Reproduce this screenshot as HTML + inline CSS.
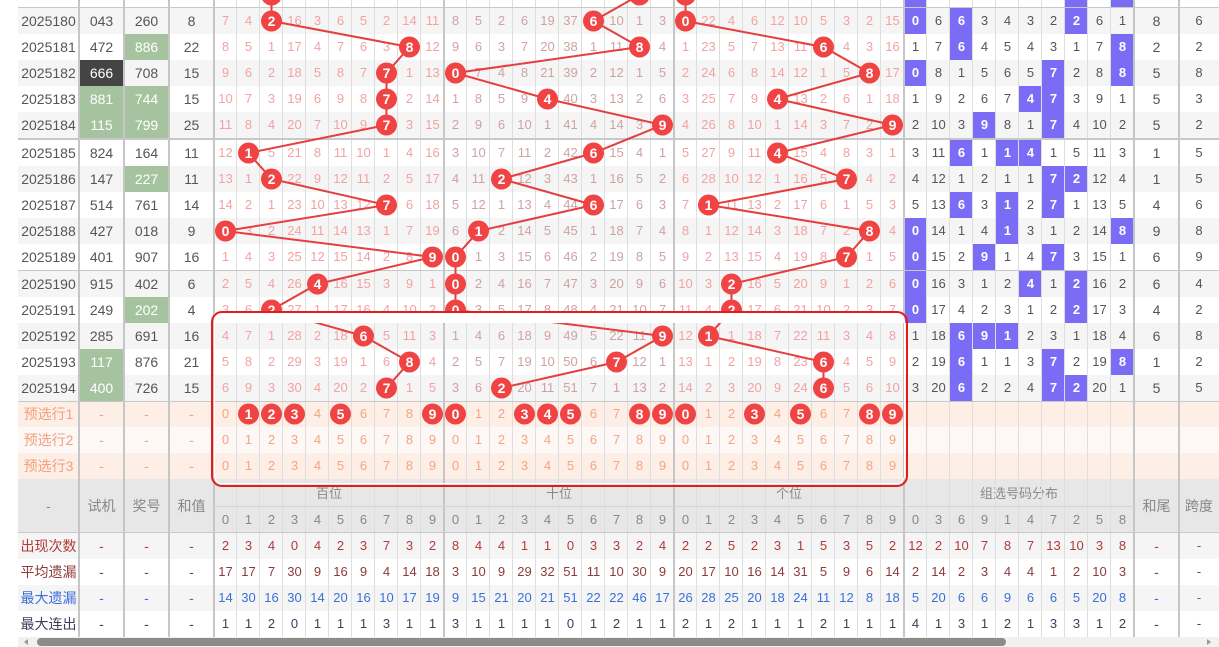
<!DOCTYPE html>
<html><head><meta charset="utf-8"><style>
body{margin:0;width:1219px;height:647px;overflow:hidden;background:#fff;font-family:"Liberation Sans","Noto Sans CJK SC",sans-serif;position:relative}
.r{position:absolute;left:18px;width:1201px;height:26px;line-height:26px;display:flex;font-size:13px;color:#555}
.r>*{display:block;flex:none;text-align:center;font-style:normal;font-weight:normal;text-decoration:none}
.a{width:61px;font-size:14px}.b{width:45px;font-size:14px}.r i{width:23px}.e{width:40px}
.g{background:#f5f5f5}
.dr i:nth-of-type(-n+10){color:#f3a2a2}
.dr i:nth-of-type(n+11):nth-of-type(-n+20){color:#cfa2a2}
.dr i:nth-of-type(n+21):nth-of-type(-n+30){color:#f3a2a2}
.dr i:nth-of-type(n+31){color:#555}
.dr i.p{background:#7b6cf6;color:#fff;font-weight:bold}
.gr{background:#a6c3a0;color:#fff!important}
.dk{background:#444;color:#fff!important}
.ps{color:#f2a07e}.ps i{color:#f4a585}
.p1{background:#fdeee6}.p2{background:#fdf7f5}
.hd{background:#e7e7e7;color:#888;font-size:14px}
.s1{color:#b23a3a}.s2{color:#8b3b3b}.s3{color:#3b6fd6}.s4{color:#3a4060}
.v{position:absolute;top:0;height:637px;width:2px;background:#c6c6c6}
.lt{position:absolute;top:0;height:637px;width:230px;background:repeating-linear-gradient(to right,transparent 0 22px,#dedede 22px 23px)}
.h{position:absolute;left:18px;width:1201px;height:1px;background:#c8c8c8}
</style></head><body>

<div class="r" style="top:-18px"></div>
<div style="position:absolute;left:904px;top:0;width:23px;height:8px;background:#7b6cf6"></div>
<div style="position:absolute;left:1065px;top:0;width:23px;height:8px;background:#7b6cf6"></div>
<div style="position:absolute;left:1111px;top:0;width:23px;height:8px;background:#7b6cf6"></div>

<div class="r dr g" style="top:8px"><span class="a">2025180</span><span class="b">043</span><span class="b">260</span><span class="b">8</span><i>7</i><i>4</i><i></i><i>16</i><i>3</i><i>6</i><i>5</i><i>2</i><i>14</i><i>11</i><i>8</i><i>5</i><i>2</i><i>6</i><i>19</i><i>37</i><i></i><i>10</i><i>1</i><i>3</i><i></i><i>22</i><i>4</i><i>6</i><i>12</i><i>10</i><i>5</i><i>3</i><i>2</i><i>15</i><i class="p">0</i><i>6</i><i class="p">6</i><i>3</i><i>4</i><i>3</i><i>2</i><i class="p">2</i><i>6</i><i>1</i><span class="b">8</span><span class="e">6</span></div>
<div class="r dr" style="top:34px"><span class="a">2025181</span><span class="b">472</span><span class="b gr">886</span><span class="b">22</span><i>8</i><i>5</i><i>1</i><i>17</i><i>4</i><i>7</i><i>6</i><i>3</i><i></i><i>12</i><i>9</i><i>6</i><i>3</i><i>7</i><i>20</i><i>38</i><i>1</i><i>11</i><i></i><i>4</i><i>1</i><i>23</i><i>5</i><i>7</i><i>13</i><i>11</i><i></i><i>4</i><i>3</i><i>16</i><i>1</i><i>7</i><i class="p">6</i><i>4</i><i>5</i><i>4</i><i>3</i><i>1</i><i>7</i><i class="p">8</i><span class="b">2</span><span class="e">2</span></div>
<div class="r dr g" style="top:60px"><span class="a">2025182</span><span class="b dk">666</span><span class="b">708</span><span class="b">15</span><i>9</i><i>6</i><i>2</i><i>18</i><i>5</i><i>8</i><i>7</i><i></i><i>1</i><i>13</i><i></i><i>7</i><i>4</i><i>8</i><i>21</i><i>39</i><i>2</i><i>12</i><i>1</i><i>5</i><i>2</i><i>24</i><i>6</i><i>8</i><i>14</i><i>12</i><i>1</i><i>5</i><i></i><i>17</i><i class="p">0</i><i>8</i><i>1</i><i>5</i><i>6</i><i>5</i><i class="p">7</i><i>2</i><i>8</i><i class="p">8</i><span class="b">5</span><span class="e">8</span></div>
<div class="r dr" style="top:86px"><span class="a">2025183</span><span class="b gr">881</span><span class="b gr">744</span><span class="b">15</span><i>10</i><i>7</i><i>3</i><i>19</i><i>6</i><i>9</i><i>8</i><i></i><i>2</i><i>14</i><i>1</i><i>8</i><i>5</i><i>9</i><i></i><i>40</i><i>3</i><i>13</i><i>2</i><i>6</i><i>3</i><i>25</i><i>7</i><i>9</i><i></i><i>13</i><i>2</i><i>6</i><i>1</i><i>18</i><i>1</i><i>9</i><i>2</i><i>6</i><i>7</i><i class="p">4</i><i class="p">7</i><i>3</i><i>9</i><i>1</i><span class="b">5</span><span class="e">3</span></div>
<div class="r dr g" style="top:112px"><span class="a">2025184</span><span class="b gr">115</span><span class="b gr">799</span><span class="b">25</span><i>11</i><i>8</i><i>4</i><i>20</i><i>7</i><i>10</i><i>9</i><i></i><i>3</i><i>15</i><i>2</i><i>9</i><i>6</i><i>10</i><i>1</i><i>41</i><i>4</i><i>14</i><i>3</i><i></i><i>4</i><i>26</i><i>8</i><i>10</i><i>1</i><i>14</i><i>3</i><i>7</i><i>2</i><i></i><i>2</i><i>10</i><i>3</i><i class="p">9</i><i>8</i><i>1</i><i class="p">7</i><i>4</i><i>10</i><i>2</i><span class="b">5</span><span class="e">2</span></div>
<div class="r dr" style="top:140px"><span class="a">2025185</span><span class="b">824</span><span class="b">164</span><span class="b">11</span><i>12</i><i></i><i>5</i><i>21</i><i>8</i><i>11</i><i>10</i><i>1</i><i>4</i><i>16</i><i>3</i><i>10</i><i>7</i><i>11</i><i>2</i><i>42</i><i></i><i>15</i><i>4</i><i>1</i><i>5</i><i>27</i><i>9</i><i>11</i><i></i><i>15</i><i>4</i><i>8</i><i>3</i><i>1</i><i>3</i><i>11</i><i class="p">6</i><i>1</i><i class="p">1</i><i class="p">4</i><i>1</i><i>5</i><i>11</i><i>3</i><span class="b">1</span><span class="e">5</span></div>
<div class="r dr g" style="top:166px"><span class="a">2025186</span><span class="b">147</span><span class="b gr">227</span><span class="b">11</span><i>13</i><i>1</i><i></i><i>22</i><i>9</i><i>12</i><i>11</i><i>2</i><i>5</i><i>17</i><i>4</i><i>11</i><i></i><i>12</i><i>3</i><i>43</i><i>1</i><i>16</i><i>5</i><i>2</i><i>6</i><i>28</i><i>10</i><i>12</i><i>1</i><i>16</i><i>5</i><i></i><i>4</i><i>2</i><i>4</i><i>12</i><i>1</i><i>2</i><i>1</i><i>1</i><i class="p">7</i><i class="p">2</i><i>12</i><i>4</i><span class="b">1</span><span class="e">5</span></div>
<div class="r dr" style="top:192px"><span class="a">2025187</span><span class="b">514</span><span class="b">761</span><span class="b">14</span><i>14</i><i>2</i><i>1</i><i>23</i><i>10</i><i>13</i><i>12</i><i></i><i>6</i><i>18</i><i>5</i><i>12</i><i>1</i><i>13</i><i>4</i><i>44</i><i></i><i>17</i><i>6</i><i>3</i><i>7</i><i></i><i>11</i><i>13</i><i>2</i><i>17</i><i>6</i><i>1</i><i>5</i><i>3</i><i>5</i><i>13</i><i class="p">6</i><i>3</i><i class="p">1</i><i>2</i><i class="p">7</i><i>1</i><i>13</i><i>5</i><span class="b">4</span><span class="e">6</span></div>
<div class="r dr g" style="top:218px"><span class="a">2025188</span><span class="b">427</span><span class="b">018</span><span class="b">9</span><i></i><i>3</i><i>2</i><i>24</i><i>11</i><i>14</i><i>13</i><i>1</i><i>7</i><i>19</i><i>6</i><i></i><i>2</i><i>14</i><i>5</i><i>45</i><i>1</i><i>18</i><i>7</i><i>4</i><i>8</i><i>1</i><i>12</i><i>14</i><i>3</i><i>18</i><i>7</i><i>2</i><i></i><i>4</i><i class="p">0</i><i>14</i><i>1</i><i>4</i><i class="p">1</i><i>3</i><i>1</i><i>2</i><i>14</i><i class="p">8</i><span class="b">9</span><span class="e">8</span></div>
<div class="r dr" style="top:244px"><span class="a">2025189</span><span class="b">401</span><span class="b">907</span><span class="b">16</span><i>1</i><i>4</i><i>3</i><i>25</i><i>12</i><i>15</i><i>14</i><i>2</i><i>8</i><i></i><i></i><i>1</i><i>3</i><i>15</i><i>6</i><i>46</i><i>2</i><i>19</i><i>8</i><i>5</i><i>9</i><i>2</i><i>13</i><i>15</i><i>4</i><i>19</i><i>8</i><i></i><i>1</i><i>5</i><i class="p">0</i><i>15</i><i>2</i><i class="p">9</i><i>1</i><i>4</i><i class="p">7</i><i>3</i><i>15</i><i>1</i><span class="b">6</span><span class="e">9</span></div>
<div class="r dr g" style="top:271px"><span class="a">2025190</span><span class="b">915</span><span class="b">402</span><span class="b">6</span><i>2</i><i>5</i><i>4</i><i>26</i><i></i><i>16</i><i>15</i><i>3</i><i>9</i><i>1</i><i></i><i>2</i><i>4</i><i>16</i><i>7</i><i>47</i><i>3</i><i>20</i><i>9</i><i>6</i><i>10</i><i>3</i><i></i><i>16</i><i>5</i><i>20</i><i>9</i><i>1</i><i>2</i><i>6</i><i class="p">0</i><i>16</i><i>3</i><i>1</i><i>2</i><i class="p">4</i><i>1</i><i class="p">2</i><i>16</i><i>2</i><span class="b">6</span><span class="e">4</span></div>
<div class="r dr" style="top:297px"><span class="a">2025191</span><span class="b">249</span><span class="b gr">202</span><span class="b">4</span><i>3</i><i>6</i><i></i><i>27</i><i>1</i><i>17</i><i>16</i><i>4</i><i>10</i><i>2</i><i></i><i>3</i><i>5</i><i>17</i><i>8</i><i>48</i><i>4</i><i>21</i><i>10</i><i>7</i><i>11</i><i>4</i><i></i><i>17</i><i>6</i><i>21</i><i>10</i><i>2</i><i>3</i><i>7</i><i class="p">0</i><i>17</i><i>4</i><i>2</i><i>3</i><i>1</i><i>2</i><i class="p">2</i><i>17</i><i>3</i><span class="b">4</span><span class="e">2</span></div>
<div class="r dr g" style="top:323px"><span class="a">2025192</span><span class="b">285</span><span class="b">691</span><span class="b">16</span><i>4</i><i>7</i><i>1</i><i>28</i><i>2</i><i>18</i><i></i><i>5</i><i>11</i><i>3</i><i>1</i><i>4</i><i>6</i><i>18</i><i>9</i><i>49</i><i>5</i><i>22</i><i>11</i><i></i><i>12</i><i></i><i>1</i><i>18</i><i>7</i><i>22</i><i>11</i><i>3</i><i>4</i><i>8</i><i>1</i><i>18</i><i class="p">6</i><i class="p">9</i><i class="p">1</i><i>2</i><i>3</i><i>1</i><i>18</i><i>4</i><span class="b">6</span><span class="e">8</span></div>
<div class="r dr" style="top:349px"><span class="a">2025193</span><span class="b gr">117</span><span class="b">876</span><span class="b">21</span><i>5</i><i>8</i><i>2</i><i>29</i><i>3</i><i>19</i><i>1</i><i>6</i><i></i><i>4</i><i>2</i><i>5</i><i>7</i><i>19</i><i>10</i><i>50</i><i>6</i><i></i><i>12</i><i>1</i><i>13</i><i>1</i><i>2</i><i>19</i><i>8</i><i>23</i><i></i><i>4</i><i>5</i><i>9</i><i>2</i><i>19</i><i class="p">6</i><i>1</i><i>1</i><i>3</i><i class="p">7</i><i>2</i><i>19</i><i class="p">8</i><span class="b">1</span><span class="e">2</span></div>
<div class="r dr g" style="top:375px"><span class="a">2025194</span><span class="b gr">400</span><span class="b">726</span><span class="b">15</span><i>6</i><i>9</i><i>3</i><i>30</i><i>4</i><i>20</i><i>2</i><i></i><i>1</i><i>5</i><i>3</i><i>6</i><i></i><i>20</i><i>11</i><i>51</i><i>7</i><i>1</i><i>13</i><i>2</i><i>14</i><i>2</i><i>3</i><i>20</i><i>9</i><i>24</i><i></i><i>5</i><i>6</i><i>10</i><i>3</i><i>20</i><i class="p">6</i><i>2</i><i>2</i><i>4</i><i class="p">7</i><i class="p">2</i><i>20</i><i>1</i><span class="b">5</span><span class="e">5</span></div>

<div class="r ps p1" style="top:401px"><span class="a">预选行1</span><span class="b">-</span><span class="b">-</span><span class="b">-</span><i>0</i><i></i><i></i><i></i><i>4</i><i></i><i>6</i><i>7</i><i>8</i><i></i><i></i><i>1</i><i>2</i><i></i><i></i><i></i><i>6</i><i>7</i><i></i><i></i><i></i><i>1</i><i>2</i><i></i><i>4</i><i></i><i>6</i><i>7</i><i></i><i></i></div>
<div class="r ps p2" style="top:427px"><span class="a">预选行2</span><span class="b">-</span><span class="b">-</span><span class="b">-</span><i>0</i><i>1</i><i>2</i><i>3</i><i>4</i><i>5</i><i>6</i><i>7</i><i>8</i><i>9</i><i>0</i><i>1</i><i>2</i><i>3</i><i>4</i><i>5</i><i>6</i><i>7</i><i>8</i><i>9</i><i>0</i><i>1</i><i>2</i><i>3</i><i>4</i><i>5</i><i>6</i><i>7</i><i>8</i><i>9</i></div>
<div class="r ps p1" style="top:453px"><span class="a">预选行3</span><span class="b">-</span><span class="b">-</span><span class="b">-</span><i>0</i><i>1</i><i>2</i><i>3</i><i>4</i><i>5</i><i>6</i><i>7</i><i>8</i><i>9</i><i>0</i><i>1</i><i>2</i><i>3</i><i>4</i><i>5</i><i>6</i><i>7</i><i>8</i><i>9</i><i>0</i><i>1</i><i>2</i><i>3</i><i>4</i><i>5</i><i>6</i><i>7</i><i>8</i><i>9</i></div>

<div class="r hd" style="top:479px;height:54px;line-height:54px"><span class="a">-</span><span class="b">试机</span><span class="b">奖号</span><span class="b">和值</span></div>
<div class="hd" style="position:absolute;top:479px;left:214px;width:920px;height:27px;line-height:29px;display:flex;font-size:13px"><span style="width:230px;text-align:center">百位</span><span style="width:230px;text-align:center">十位</span><span style="width:230px;text-align:center">个位</span><span style="width:230px;text-align:center">组选号码分布</span></div>
<div class="hd" style="position:absolute;top:479px;left:1134px;width:85px;height:54px;line-height:54px;display:flex"><span style="width:45px;text-align:center">和尾</span><span style="width:40px;text-align:center">跨度</span></div>
<div class="r hd" style="top:506px;left:214px;width:920px;font-size:13px;height:27px;line-height:27px"><i>0</i><i>1</i><i>2</i><i>3</i><i>4</i><i>5</i><i>6</i><i>7</i><i>8</i><i>9</i><i>0</i><i>1</i><i>2</i><i>3</i><i>4</i><i>5</i><i>6</i><i>7</i><i>8</i><i>9</i><i>0</i><i>1</i><i>2</i><i>3</i><i>4</i><i>5</i><i>6</i><i>7</i><i>8</i><i>9</i><i>0</i><i>3</i><i>6</i><i>9</i><i>1</i><i>4</i><i>7</i><i>2</i><i>5</i><i>8</i></div>

<div class="r g s1" style="top:533px"><span class="a">出现次数</span><span class="b">-</span><span class="b">-</span><span class="b">-</span><i>2</i><i>3</i><i>4</i><i>0</i><i>4</i><i>2</i><i>3</i><i>7</i><i>3</i><i>2</i><i>8</i><i>4</i><i>4</i><i>1</i><i>1</i><i>0</i><i>3</i><i>3</i><i>2</i><i>4</i><i>2</i><i>2</i><i>5</i><i>2</i><i>3</i><i>1</i><i>5</i><i>3</i><i>5</i><i>2</i><i>12</i><i>2</i><i>10</i><i>7</i><i>8</i><i>7</i><i>13</i><i>10</i><i>3</i><i>8</i><span class="b">-</span><span class="e">-</span></div>
<div class="r s2" style="top:559px"><span class="a">平均遗漏</span><span class="b">-</span><span class="b">-</span><span class="b">-</span><i>17</i><i>17</i><i>7</i><i>30</i><i>9</i><i>16</i><i>9</i><i>4</i><i>14</i><i>18</i><i>3</i><i>10</i><i>9</i><i>29</i><i>32</i><i>51</i><i>11</i><i>10</i><i>30</i><i>9</i><i>20</i><i>17</i><i>10</i><i>16</i><i>14</i><i>31</i><i>5</i><i>9</i><i>6</i><i>14</i><i>2</i><i>14</i><i>2</i><i>3</i><i>4</i><i>4</i><i>1</i><i>2</i><i>10</i><i>3</i><span class="b">-</span><span class="e">-</span></div>
<div class="r g s3" style="top:585px"><span class="a">最大遗漏</span><span class="b">-</span><span class="b">-</span><span class="b">-</span><i>14</i><i>30</i><i>16</i><i>30</i><i>14</i><i>20</i><i>16</i><i>10</i><i>17</i><i>19</i><i>9</i><i>15</i><i>21</i><i>20</i><i>21</i><i>51</i><i>22</i><i>22</i><i>46</i><i>17</i><i>26</i><i>28</i><i>25</i><i>20</i><i>18</i><i>24</i><i>11</i><i>12</i><i>8</i><i>18</i><i>5</i><i>20</i><i>6</i><i>6</i><i>9</i><i>6</i><i>6</i><i>5</i><i>20</i><i>8</i><span class="b">-</span><span class="e">-</span></div>
<div class="r s4" style="top:611px"><span class="a">最大连出</span><span class="b">-</span><span class="b">-</span><span class="b">-</span><i>1</i><i>1</i><i>2</i><i>0</i><i>1</i><i>1</i><i>1</i><i>3</i><i>1</i><i>1</i><i>3</i><i>1</i><i>1</i><i>1</i><i>1</i><i>0</i><i>1</i><i>2</i><i>1</i><i>1</i><i>2</i><i>1</i><i>2</i><i>1</i><i>1</i><i>1</i><i>2</i><i>1</i><i>1</i><i>1</i><i>4</i><i>1</i><i>3</i><i>1</i><i>2</i><i>1</i><i>3</i><i>3</i><i>1</i><i>2</i><span class="b">-</span><span class="e">-</span></div>

<!-- grid lines -->
<div class="lt" style="left:214px"></div>
<div class="lt" style="left:444px"></div>
<div class="lt" style="left:674px"></div>
<div class="lt" style="left:904px"></div>
<div class="v" style="left:78px"></div><div class="v" style="left:123px"></div><div class="v" style="left:168px"></div><div class="v" style="left:213px"></div><div class="v" style="left:443px"></div><div class="v" style="left:673px"></div><div class="v" style="left:903px"></div><div class="v" style="left:1133px"></div><div class="v" style="left:1178px"></div>
<div class="h" style="top:7px"></div><div class="h" style="top:138px;height:2px"></div><div class="h" style="top:270px"></div><div class="h" style="top:401px"></div><div class="h" style="top:506px;left:214px;width:920px;background:#d4d4d4"></div><div class="h" style="top:532px"></div>

<svg width="1219" height="647" style="position:absolute;left:0;top:0" font-family="Liberation Sans,sans-serif" font-weight="bold" font-size="14" text-anchor="middle">
<g fill="none" stroke="#e53e3e" stroke-width="2">
<polyline points="271.5,-5 271.5,21 409.5,47 386.5,73 386.5,99 386.5,125 248.5,153 271.5,179 386.5,205 225.5,231 432.5,257 317.5,284 271.5,310 363.5,336 409.5,362 386.5,388"/>
<polyline points="639.5,-5 593.5,21 639.5,47 455.5,73 547.5,99 662.5,125 593.5,153 501.5,179 593.5,205 478.5,231 455.5,257 455.5,284 455.5,310 662.5,336 616.5,362 501.5,388"/>
<polyline points="685.5,-5 685.5,21 823.5,47 869.5,73 777.5,99 892.5,125 777.5,153 846.5,179 708.5,205 869.5,231 846.5,257 731.5,284 731.5,310 708.5,336 823.5,362 823.5,388"/>
</g>
<g fill="#f04343">
<circle cx="271.5" cy="-5" r="10.5"/><circle cx="639.5" cy="-5" r="10.5"/><circle cx="685.5" cy="-5" r="10.5"/>
<circle cx="271.5" cy="21" r="10.5"/><circle cx="409.5" cy="47" r="10.5"/><circle cx="386.5" cy="73" r="10.5"/><circle cx="386.5" cy="99" r="10.5"/><circle cx="386.5" cy="125" r="10.5"/><circle cx="248.5" cy="153" r="10.5"/><circle cx="271.5" cy="179" r="10.5"/><circle cx="386.5" cy="205" r="10.5"/><circle cx="225.5" cy="231" r="10.5"/><circle cx="432.5" cy="257" r="10.5"/><circle cx="317.5" cy="284" r="10.5"/><circle cx="271.5" cy="310" r="10.5"/><circle cx="363.5" cy="336" r="10.5"/><circle cx="409.5" cy="362" r="10.5"/><circle cx="386.5" cy="388" r="10.5"/>
<circle cx="593.5" cy="21" r="10.5"/><circle cx="639.5" cy="47" r="10.5"/><circle cx="455.5" cy="73" r="10.5"/><circle cx="547.5" cy="99" r="10.5"/><circle cx="662.5" cy="125" r="10.5"/><circle cx="593.5" cy="153" r="10.5"/><circle cx="501.5" cy="179" r="10.5"/><circle cx="593.5" cy="205" r="10.5"/><circle cx="478.5" cy="231" r="10.5"/><circle cx="455.5" cy="257" r="10.5"/><circle cx="455.5" cy="284" r="10.5"/><circle cx="455.5" cy="310" r="10.5"/><circle cx="662.5" cy="336" r="10.5"/><circle cx="616.5" cy="362" r="10.5"/><circle cx="501.5" cy="388" r="10.5"/>
<circle cx="685.5" cy="21" r="10.5"/><circle cx="823.5" cy="47" r="10.5"/><circle cx="869.5" cy="73" r="10.5"/><circle cx="777.5" cy="99" r="10.5"/><circle cx="892.5" cy="125" r="10.5"/><circle cx="777.5" cy="153" r="10.5"/><circle cx="846.5" cy="179" r="10.5"/><circle cx="708.5" cy="205" r="10.5"/><circle cx="869.5" cy="231" r="10.5"/><circle cx="846.5" cy="257" r="10.5"/><circle cx="731.5" cy="284" r="10.5"/><circle cx="731.5" cy="310" r="10.5"/><circle cx="708.5" cy="336" r="10.5"/><circle cx="823.5" cy="362" r="10.5"/><circle cx="823.5" cy="388" r="10.5"/>
<circle cx="248.5" cy="414" r="10.5"/><circle cx="271.5" cy="414" r="10.5"/><circle cx="294.5" cy="414" r="10.5"/><circle cx="340.5" cy="414" r="10.5"/><circle cx="432.5" cy="414" r="10.5"/>
<circle cx="455.5" cy="414" r="10.5"/><circle cx="524.5" cy="414" r="10.5"/><circle cx="547.5" cy="414" r="10.5"/><circle cx="570.5" cy="414" r="10.5"/><circle cx="639.5" cy="414" r="10.5"/><circle cx="662.5" cy="414" r="10.5"/>
<circle cx="685.5" cy="414" r="10.5"/><circle cx="754.5" cy="414" r="10.5"/><circle cx="800.5" cy="414" r="10.5"/><circle cx="869.5" cy="414" r="10.5"/><circle cx="892.5" cy="414" r="10.5"/>
</g>
<g fill="#fff">
<text x="271.5" y="26">2</text><text x="409.5" y="52">8</text><text x="386.5" y="78">7</text><text x="386.5" y="104">7</text><text x="386.5" y="130">7</text><text x="248.5" y="158">1</text><text x="271.5" y="184">2</text><text x="386.5" y="210">7</text><text x="225.5" y="236">0</text><text x="432.5" y="262">9</text><text x="317.5" y="289">4</text><text x="271.5" y="315">2</text><text x="363.5" y="341">6</text><text x="409.5" y="367">8</text><text x="386.5" y="393">7</text>
<text x="593.5" y="26">6</text><text x="639.5" y="52">8</text><text x="455.5" y="78">0</text><text x="547.5" y="104">4</text><text x="662.5" y="130">9</text><text x="593.5" y="158">6</text><text x="501.5" y="184">2</text><text x="593.5" y="210">6</text><text x="478.5" y="236">1</text><text x="455.5" y="262">0</text><text x="455.5" y="289">0</text><text x="455.5" y="315">0</text><text x="662.5" y="341">9</text><text x="616.5" y="367">7</text><text x="501.5" y="393">2</text>
<text x="685.5" y="26">0</text><text x="823.5" y="52">6</text><text x="869.5" y="78">8</text><text x="777.5" y="104">4</text><text x="892.5" y="130">9</text><text x="777.5" y="158">4</text><text x="846.5" y="184">7</text><text x="708.5" y="210">1</text><text x="869.5" y="236">8</text><text x="846.5" y="262">7</text><text x="731.5" y="289">2</text><text x="731.5" y="315">2</text><text x="708.5" y="341">1</text><text x="823.5" y="367">6</text><text x="823.5" y="393">6</text>
<text x="248.5" y="419">1</text><text x="271.5" y="419">2</text><text x="294.5" y="419">3</text><text x="340.5" y="419">5</text><text x="432.5" y="419">9</text>
<text x="455.5" y="419">0</text><text x="524.5" y="419">3</text><text x="547.5" y="419">4</text><text x="570.5" y="419">5</text><text x="639.5" y="419">8</text><text x="662.5" y="419">9</text>
<text x="685.5" y="419">0</text><text x="754.5" y="419">3</text><text x="800.5" y="419">5</text><text x="869.5" y="419">8</text><text x="892.5" y="419">9</text>
</g>
<rect x="214" y="313" width="690" height="10" fill="#fff"/>
<rect x="212" y="312" width="695" height="174" rx="10" fill="none" stroke="#e31b1b" stroke-width="2"/>
<rect x="214.5" y="314.5" width="690" height="169" rx="8" fill="none" stroke="#fff" stroke-width="1"/>
<rect x="18" y="637" width="1201" height="10" fill="#f1f1f1"/>
<rect x="37" y="638" width="969" height="8" rx="4" fill="#8c8c8c"/>
<polygon points="28,639 28,645 24,642" fill="#999"/><polygon points="1207,639 1207,645 1211,642" fill="#999"/>
</svg>
</body></html>
